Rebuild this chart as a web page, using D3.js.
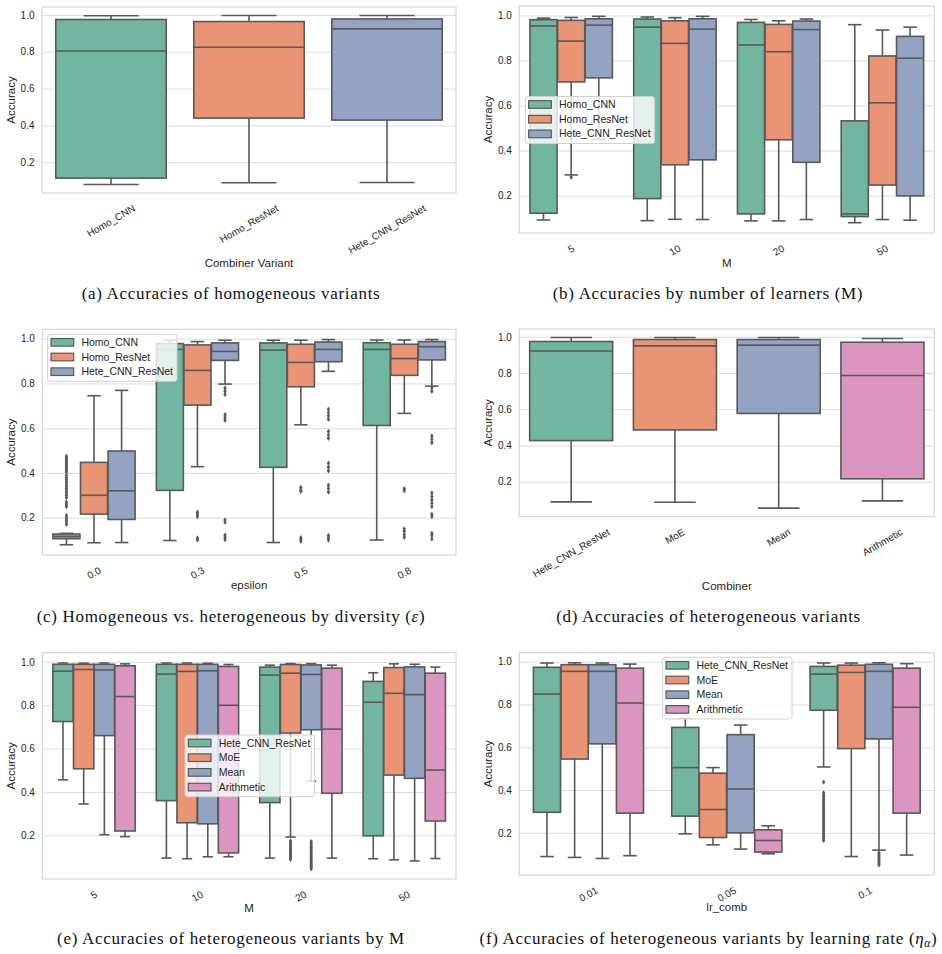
<!DOCTYPE html>
<html>
<head>
<meta charset="utf-8">
<script src="https://cdn.jsdelivr.net/npm/d3@7"></script>
<style>
  body { margin: 0; background: #fff; }
  text { font-family: "Liberation Sans", Arial, sans-serif; fill: #262626; }
  .caption { font-family: "Liberation Serif", "Times New Roman", serif; font-size: 17px; letter-spacing: 0.68px; fill: #111; }
</style>
</head>
<body>
<div id="fig"></div>
<script>
// Box stats are [lower whisker, Q1, median, Q3, upper whisker]

// (a) homogeneous variants
var variantsA = ["Homo_CNN", "Homo_ResNet", "Hete_CNN_ResNet"];
var statsA = [
  [0.079, 0.114, 0.804, 0.975, 0.995],
  [0.089, 0.440, 0.824, 0.964, 0.997],
  [0.090, 0.429, 0.924, 0.978, 0.997]
];

// (b) by number of learners
var mLevels = ["5", "10", "20", "50"];
var homoGroups = ["Homo_CNN", "Homo_ResNet", "Hete_CNN_ResNet"];
var bHomoCNN = [
  [0.092, 0.122, 0.953, 0.981, 0.988],
  [0.089, 0.187, 0.948, 0.984, 0.993],
  [0.088, 0.119, 0.869, 0.969, 0.982],
  [0.080, 0.107, 0.119, 0.532, 0.959]
];
var bHomoResNet = [
  [0.292, 0.705, 0.886, 0.978, 0.991],
  [0.095, 0.337, 0.876, 0.976, 0.990],
  [0.088, 0.448, 0.839, 0.960, 0.976],
  [0.094, 0.247, 0.612, 0.820, 0.935]
];
var bHete = [
  [0.450, 0.723, 0.957, 0.985, 0.996],
  [0.094, 0.359, 0.939, 0.985, 0.996],
  [0.094, 0.348, 0.937, 0.975, 0.984],
  [0.091, 0.199, 0.810, 0.907, 0.948]
];
var bFliersHomoResNet = [[0.282], [], [], []];

// (c) by diversity epsilon
var epsLevels = ["0.0", "0.3", "0.5", "0.8"];
var cHomoCNN = [
  [0.079, 0.106, 0.116, 0.127, 0.130],
  [0.098, 0.322, 0.952, 0.978, 0.993],
  [0.089, 0.425, 0.949, 0.981, 0.993],
  [0.100, 0.612, 0.952, 0.982, 0.994]
];
var cHomoResNet = [
  [0.088, 0.216, 0.300, 0.447, 0.745],
  [0.428, 0.703, 0.858, 0.972, 0.987],
  [0.615, 0.785, 0.894, 0.975, 0.993],
  [0.666, 0.836, 0.911, 0.975, 0.994]
];
var cHete = [
  [0.089, 0.192, 0.320, 0.498, 0.769],
  [0.797, 0.903, 0.943, 0.981, 0.993],
  [0.854, 0.897, 0.952, 0.985, 0.996],
  [0.788, 0.905, 0.964, 0.987, 0.996]
];
var cFliersHomoCNN = [
  [0.474, 0.465, 0.458, 0.450, 0.443, 0.436, 0.428, 0.420, 0.412, 0.404, 0.390, 0.380, 0.370,
   0.360, 0.350, 0.340, 0.330, 0.320, 0.310, 0.300, 0.290, 0.270, 0.260, 0.250, 0.210, 0.200,
   0.190, 0.180, 0.170],
  [], [], []
];
var cFliersHomoResNet = [
  [],
  [0.224, 0.215, 0.205, 0.109, 0.100],
  [0.335, 0.325, 0.318, 0.110, 0.102, 0.095],
  [0.330, 0.320, 0.150, 0.140, 0.125, 0.112]
];
var cFliersHete = [
  [],
  [0.780, 0.765, 0.750, 0.660, 0.648, 0.635, 0.190, 0.180, 0.122, 0.112, 0.102],
  [0.685, 0.670, 0.655, 0.640, 0.585, 0.570, 0.555, 0.443, 0.425, 0.410, 0.345, 0.330, 0.315,
   0.120, 0.110, 0.100],
  [0.780, 0.765, 0.565, 0.550, 0.535, 0.310, 0.295, 0.280, 0.265, 0.250, 0.215, 0.205, 0.130,
   0.120, 0.105]
];

// (d) heterogeneous combiners
var combiners = ["Hete_CNN_ResNet", "MoE", "Mean", "Arithmetic"];
var statsD = [
  [0.089, 0.427, 0.922, 0.974, 0.996],
  [0.087, 0.486, 0.950, 0.985, 0.996],
  [0.054, 0.577, 0.954, 0.985, 0.996],
  [0.094, 0.216, 0.786, 0.970, 0.991]
];

// (e) combiners by M
var eHete = [
  [0.456, 0.725, 0.957, 0.989, 0.995],
  [0.095, 0.360, 0.944, 0.989, 0.995],
  [0.095, 0.351, 0.939, 0.976, 0.985],
  [0.092, 0.198, 0.814, 0.910, 0.950]
];
var eMoE = [
  [0.345, 0.507, 0.965, 0.989, 0.994],
  [0.092, 0.258, 0.956, 0.989, 0.995],
  [0.192, 0.672, 0.948, 0.988, 0.992],
  [0.087, 0.478, 0.855, 0.974, 0.991]
];
var eMean = [
  [0.203, 0.660, 0.963, 0.989, 0.995],
  [0.101, 0.253, 0.959, 0.989, 0.994],
  [0.450, 0.687, 0.942, 0.986, 0.992],
  [0.082, 0.463, 0.849, 0.977, 0.989]
];
var eArith = [
  [0.194, 0.220, 0.840, 0.982, 0.991],
  [0.101, 0.119, 0.800, 0.979, 0.988],
  [0.095, 0.394, 0.690, 0.971, 0.985],
  [0.093, 0.266, 0.501, 0.948, 0.976]
];
var eFliersMoE = [[], [], [0.174, 0.165, 0.157, 0.150, 0.142, 0.135, 0.128, 0.120, 0.112, 0.105, 0.097, 0.090], []];
var eFliersMean = [[], [], [0.171, 0.162, 0.153, 0.145, 0.137, 0.128, 0.120, 0.112, 0.103, 0.095,
                            0.087, 0.078, 0.070, 0.062, 0.054, 0.046], []];

// (f) combiners by learning rate
var lrLevels = ["0.01", "0.05", "0.1"];
var fHete = [
  [0.089, 0.296, 0.849, 0.974, 0.994],
  [0.195, 0.278, 0.505, 0.693, 0.736],
  [0.508, 0.773, 0.942, 0.978, 0.994]
];
var fMoE = [
  [0.085, 0.545, 0.955, 0.986, 0.995],
  [0.144, 0.178, 0.309, 0.479, 0.505],
  [0.089, 0.594, 0.950, 0.984, 0.994]
];
var fMean = [
  [0.080, 0.616, 0.955, 0.986, 0.994],
  [0.124, 0.200, 0.405, 0.659, 0.704],
  [0.119, 0.639, 0.955, 0.988, 0.995]
];
var fArith = [
  [0.093, 0.292, 0.807, 0.970, 0.989],
  [0.102, 0.110, 0.164, 0.214, 0.233],
  [0.096, 0.292, 0.787, 0.970, 0.991]
];
var fFliersHete = [[], [], [0.437, 0.387, 0.375, 0.365, 0.355, 0.345, 0.335, 0.325, 0.315, 0.305,
  0.295, 0.285, 0.275, 0.265, 0.255, 0.245, 0.235, 0.225, 0.215, 0.205, 0.195, 0.185, 0.175, 0.165]];
var fFliersMean = [[], [], [0.107, 0.098, 0.090, 0.082, 0.074, 0.066, 0.058, 0.050]];

var yTicks = [0.2, 0.4, 0.6, 0.8, 1.0];

// seaborn Set2, desaturated 0.75
var colors = ["#72b6a1", "#e99575", "#95a3c3", "#db96c0"];
var lineColor = "#595959";

var svgWidth = 942, svgHeight = 954;
var svg = d3.select("#fig").append("svg")
    .attr("width", svgWidth)
    .attr("height", svgHeight);

function drawPanel(p) {
  var g = svg.append("g");
  var hueMode = p.hues != null;

  // collect all values for the autoscaled y range (5% margins)
  var all = [];
  p.series.forEach(function(s) {
    if (hueMode) s.forEach(function(st) { all.push(st[0], st[4]); });
    else all.push(s[0], s[4]);
  });
  (p.fliers || []).forEach(function(fh) {
    if (fh) fh.forEach(function(arr) { all = all.concat(arr); });
  });
  var lo = d3.min(all), hi = d3.max(all), pad = (hi - lo) * 0.05;

  var y = d3.scaleLinear().domain([lo - pad, hi + pad]).range([p.bottom, p.top]);
  var x = d3.scaleBand().domain(p.cats).range([p.left, p.right]).padding(0);
  var w = p.right - p.left, h = p.bottom - p.top;

  // grid
  g.append("g")
    .attr("transform", `translate(${p.left},0)`)
    .call(d3.axisLeft(y).tickValues(yTicks).tickSize(-w).tickFormat(""))
    .call(function(a) { a.select(".domain").remove(); })
    .selectAll("line").attr("stroke", "#dddddd").attr("stroke-width", 1);

  // frame
  g.append("rect")
    .attr("x", p.left).attr("y", p.top).attr("width", w).attr("height", h)
    .attr("fill", "none").attr("stroke", "#d6d6d6").attr("stroke-width", 1.2);

  // boxes
  var boxes = [];
  if (hueMode) {
    var hueScale = d3.scaleBand().domain(p.hues).range([-x.bandwidth() * 0.4, x.bandwidth() * 0.4]);
    p.series.forEach(function(s, hi_) {
      s.forEach(function(st, ci) {
        boxes.push({
          cx: x(p.cats[ci]) + x.bandwidth() / 2 + hueScale(p.hues[hi_]) + hueScale.bandwidth() / 2,
          bw: hueScale.bandwidth() * 0.98,
          st: st,
          color: colors[hi_],
          fl: p.fliers && p.fliers[hi_] ? p.fliers[hi_][ci] : []
        });
      });
    });
  } else {
    p.series.forEach(function(st, ci) {
      boxes.push({
        cx: x(p.cats[ci]) + x.bandwidth() / 2,
        bw: x.bandwidth() * 0.8,
        st: st, color: colors[ci], fl: []
      });
    });
  }

  var bg = g.selectAll(".box").data(boxes).enter().append("g").attr("class", "box");
  // whiskers
  bg.append("line").attr("x1", d => d.cx).attr("x2", d => d.cx)
    .attr("y1", d => y(d.st[3])).attr("y2", d => y(d.st[4]));
  bg.append("line").attr("x1", d => d.cx).attr("x2", d => d.cx)
    .attr("y1", d => y(d.st[1])).attr("y2", d => y(d.st[0]));
  // caps
  bg.append("line").attr("x1", d => d.cx - d.bw / 4).attr("x2", d => d.cx + d.bw / 4)
    .attr("y1", d => y(d.st[4])).attr("y2", d => y(d.st[4]));
  bg.append("line").attr("x1", d => d.cx - d.bw / 4).attr("x2", d => d.cx + d.bw / 4)
    .attr("y1", d => y(d.st[0])).attr("y2", d => y(d.st[0]));
  bg.selectAll("line").attr("stroke", lineColor).attr("stroke-width", 1.6);
  // box
  bg.append("rect")
    .attr("x", d => d.cx - d.bw / 2).attr("width", d => d.bw)
    .attr("y", d => y(d.st[3])).attr("height", d => y(d.st[1]) - y(d.st[3]))
    .attr("fill", d => d.color).attr("stroke", lineColor).attr("stroke-width", 1.6);
  // median
  bg.append("line")
    .attr("x1", d => d.cx - d.bw / 2).attr("x2", d => d.cx + d.bw / 2)
    .attr("y1", d => y(d.st[2])).attr("y2", d => y(d.st[2]))
    .attr("stroke", lineColor).attr("stroke-width", 1.6);
  // fliers (thin diamonds)
  bg.selectAll(".flier").data(d => d.fl.map(v => ({ cx: d.cx, v: v }))).enter()
    .append("path").attr("class", "flier")
    .attr("d", "M0,-2.7L1.7,0L0,2.7L-1.7,0Z")
    .attr("transform", d => `translate(${d.cx},${y(d.v)})`)
    .attr("fill", lineColor).attr("stroke", "none");

  // y axis
  var ya = g.append("g")
    .attr("transform", `translate(${p.left},0)`)
    .call(d3.axisLeft(y).tickValues(yTicks).tickSize(0).tickPadding(7.5).tickFormat(d3.format(".1f")));
  ya.select(".domain").remove();
  ya.selectAll("text").attr("font-size", 10).attr("font-family", null).attr("fill", "#262626");

  // x axis with 30 degree labels
  var xa = g.append("g")
    .attr("transform", `translate(0,${p.bottom})`)
    .call(d3.axisBottom(x).tickSize(0));
  xa.select(".domain").remove();
  xa.selectAll("text")
    .attr("font-size", 10).attr("font-family", null).attr("fill", "#262626")
    .attr("text-anchor", "middle").attr("y", 0).attr("dy", "0.35em")
    .attr("transform", function() {
      var tw = this.getComputedTextLength();
      return `translate(0,${10 + (tw * 0.5 + 8.7) / 2}) rotate(-30)`;
    });

  // axis labels
  g.append("text")
    .attr("transform", `translate(${p.left - 31},${(p.top + p.bottom) / 2}) rotate(-90)`)
    .attr("text-anchor", "middle").attr("dy", "0.35em")
    .attr("font-size", 11.5).text("Accuracy");
  g.append("text")
    .attr("x", (p.left + p.right) / 2).attr("y", p.xlabelY + 4)
    .attr("text-anchor", "middle").attr("font-size", 11.5).text(p.xlabel);

  // legend
  if (p.legend) {
    var names = p.hues;
    var lg = g.append("g").attr("transform", `translate(${p.legend[0]},${p.legend[1]})`);
    var frame = lg.append("rect");
    var items = lg.selectAll(".item").data(names).enter().append("g")
      .attr("transform", (d, i) => `translate(0,${i * 14.7})`);
    items.append("rect")
      .attr("x", 3.3).attr("y", 4.2).attr("width", 22.7).attr("height", 7.6)
      .attr("fill", (d, i) => colors[i]).attr("stroke", lineColor).attr("stroke-width", 1.2);
    var labels = items.append("text")
      .attr("x", 33.7).attr("y", 11.6).attr("font-size", 10.5).text(d => d);
    var maxLen = d3.max(labels.nodes(), n => n.getComputedTextLength());
    frame.attr("width", 33.7 + maxLen + 4).attr("height", names.length * 14.7 + 2.9)
      .attr("rx", 2.5).attr("ry", 2.5)
      .attr("fill", "#fff").attr("fill-opacity", 0.8)
      .attr("stroke", "#d0d0d0").attr("stroke-width", 1);
  }

  // caption
  var cap = svg.append("text").attr("class", "caption")
    .attr("x", p.capX).attr("y", p.capY).attr("text-anchor", "middle");
  p.caption.forEach(function(part) {
    var t = cap.append("tspan").text(part.t);
    if (part.i) t.attr("font-style", "italic");
    if (part.sub) t.attr("font-size", "11.5px").attr("baseline-shift", "-25%");
  });
}

var hetGroups = combiners;

drawPanel({
  left: 42, top: 7, right: 456, bottom: 193,
  cats: variantsA, hues: null, series: statsA,
  xlabel: "Combiner Variant", xlabelY: 263,
  capX: 231, capY: 299,
  caption: [{ t: "(a) Accuracies of homogeneous variants" }]
});

drawPanel({
  left: 519.3, top: 6, right: 934.3, bottom: 233,
  cats: mLevels, hues: homoGroups, series: [bHomoCNN, bHomoResNet, bHete],
  fliers: [null, bFliersHomoResNet, null],
  xlabel: "M", xlabelY: 263, legend: [525.3, 96.5],
  capX: 708, capY: 299,
  caption: [{ t: "(b) Accuracies by number of learners (M)" }]
});

drawPanel({
  left: 42.3, top: 329.3, right: 456, bottom: 555,
  cats: epsLevels, hues: homoGroups, series: [cHomoCNN, cHomoResNet, cHete],
  fliers: [cFliersHomoCNN, cFliersHomoResNet, cFliersHete],
  xlabel: "epsilon", xlabelY: 585, legend: [47.7, 334.3],
  capX: 231, capY: 621.7,
  caption: [{ t: "(c) Homogeneous vs. heterogeneous by diversity (" }, { t: "ε", i: true }, { t: ")" }]
});

drawPanel({
  left: 519.3, top: 329, right: 934.3, bottom: 516.7,
  cats: combiners, hues: null, series: statsD,
  xlabel: "Combiner", xlabelY: 586,
  capX: 708.5, capY: 621.7,
  caption: [{ t: "(d) Accuracies of heterogeneous variants" }]
});

drawPanel({
  left: 42.3, top: 652.7, right: 456, bottom: 879,
  cats: mLevels, hues: hetGroups, series: [eHete, eMoE, eMean, eArith],
  fliers: [null, eFliersMoE, eFliersMean, null],
  xlabel: "M", xlabelY: 908, legend: [185, 735],
  capX: 231, capY: 944,
  caption: [{ t: "(e) Accuracies of heterogeneous variants by M" }]
});

drawPanel({
  left: 519.3, top: 652.7, right: 934.3, bottom: 875,
  cats: lrLevels, hues: hetGroups, series: [fHete, fMoE, fMean, fArith],
  fliers: [fFliersHete, null, fFliersMean, null],
  xlabel: "lr_comb", xlabelY: 907, legend: [662.7, 657.3],
  capX: 708.5, capY: 944,
  caption: [{ t: "(f) Accuracies of heterogeneous variants by learning rate (" }, { t: "η", i: true },
            { t: "α", i: true, sub: true }, { t: ")" }]
});
</script>
</body>
</html>
